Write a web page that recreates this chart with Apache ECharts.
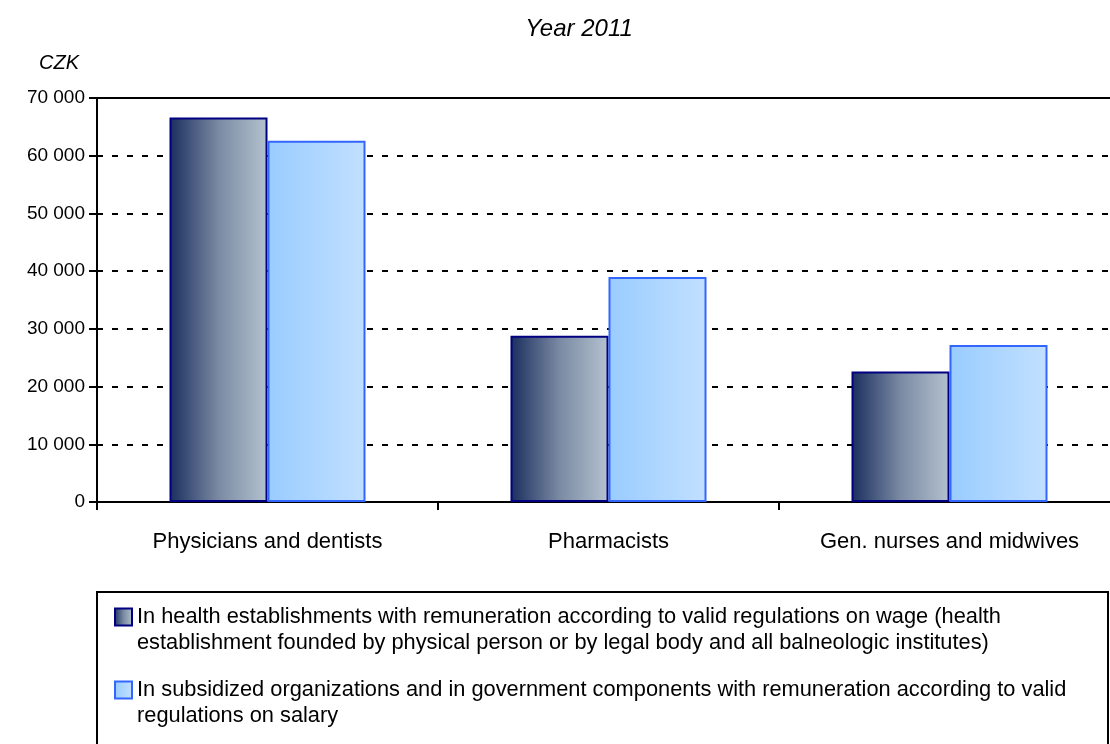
<!DOCTYPE html>
<html>
<head>
<meta charset="utf-8">
<script src="https://cdn.jsdelivr.net/npm/echarts@6/dist/echarts.min.js"></script>
<style>
html,body{margin:0;padding:0;background:#fff;}
#chart{width:1110px;height:744px;}
</style>
</head>
<body>
<div id="chart"></div>
<script>
const categories = ['Physicians and dentists', 'Pharmacists', 'Gen. nurses and midwives'];
const seriesNames = [
  'In health establishments with remuneration according to valid regulations on wage (health\nestablishment founded by physical person or by legal body and all balneologic institutes)',
  'In subsidized organizations and in government components with remuneration according to valid\nregulations on salary'
];
const establishments = [66600, 28800, 22600];
const subsidized = [62600, 39000, 27200];
const yMin = 0, yMax = 70000, yStep = 10000;

const FONT = '"Liberation Sans", Arial, sans-serif';
const chart = echarts.init(document.getElementById('chart'));

const grad1 = new echarts.graphic.LinearGradient(0, 0, 1, 0, [
  {offset: 0, color: '#1a2e5e'}, {offset: 0.5, color: '#7a8aa3'}, {offset: 1, color: '#b4c2cf'}
]);
const grad2 = new echarts.graphic.LinearGradient(0, 0, 1, 0, [
  {offset: 0, color: '#99ccff'}, {offset: 1, color: '#c2e0ff'}
]);

chart.setOption({
  animation: false,
  backgroundColor: '#fff',
  title: [
    {text: 'Year 2011', left: 574, top: 12, textAlign: 'center',
     textStyle: {fontFamily: FONT, fontStyle: 'italic', fontWeight: 'normal', fontSize: 24, color: '#000'}},
    {text: 'CZK', left: 34, top: 48,
     textStyle: {fontFamily: FONT, fontStyle: 'italic', fontWeight: 'normal', fontSize: 20, color: '#000'}}
  ],
  grid: {left: 97, top: 98, width: 1023, height: 404, containLabel: false, outerBoundsMode: 'none'},
  xAxis: [
    {type: 'category', data: categories, position: 'bottom',
     axisLine: {lineStyle: {color: '#000', width: 2}},
     axisTick: {show: true, length: 8, inside: false, lineStyle: {color: '#000', width: 2}},
     axisLabel: {fontFamily: FONT, fontSize: 22, color: '#000', margin: 29, interval: 0},
     splitLine: {show: false}},
    {type: 'category', data: categories, position: 'top',
     axisLine: {lineStyle: {color: '#000', width: 2}},
     axisTick: {show: false}, axisLabel: {show: false}, splitLine: {show: false}}
  ],
  yAxis: {
    type: 'value', min: yMin, max: yMax, interval: yStep,
    axisLine: {show: true, lineStyle: {color: '#000', width: 2}},
    axisTick: {show: true, length: 8, lineStyle: {color: '#000', width: 2}},
    axisLabel: {fontFamily: FONT, fontSize: 19, color: '#000', margin: 12,
      formatter: v => String(v).replace(/\B(?=(\d{3})+(?!\d))/g, ' ')},
    splitLine: {show: true, lineStyle: {color: '#000', width: 2, type: [6, 9]}}
  },
  legend: {
    orient: 'vertical', left: 114, top: 578, padding: 0,
    itemWidth: 17, itemHeight: 17, itemGap: -5,
    icon: 'rect',
    formatter: name => '\n' + name,
    textStyle: {fontFamily: FONT, fontSize: 21.8, color: '#000', lineHeight: 26},
    data: seriesNames
  },
  graphic: [
    {type: 'rect', z: -1, shape: {x: 97, y: 592, width: 1011, height: 170},
     style: {fill: 'none', stroke: '#000', lineWidth: 2}}
  ],
  series: [
    {name: seriesNames[0], type: 'bar', data: establishments, barWidth: 98, barGap: '0%',
     itemStyle: {color: grad1, borderColor: '#000080', borderWidth: 2}},
    {name: seriesNames[1], type: 'bar', data: subsidized, barWidth: 98, barGap: '0%',
     itemStyle: {color: grad2, borderColor: '#3366ff', borderWidth: 2}}
  ]
});
</script>
</body>
</html>
